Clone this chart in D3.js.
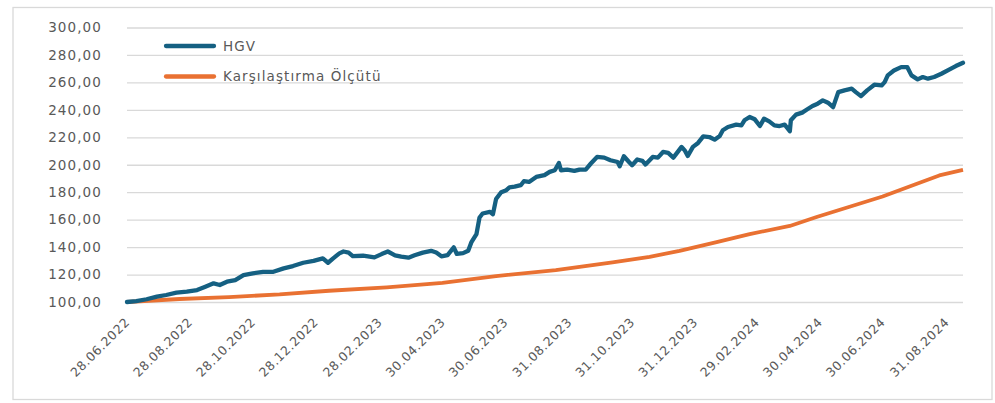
<!DOCTYPE html>
<html>
<head>
<meta charset="utf-8">
<script src="https://cdn.jsdelivr.net/npm/d3@7"></script>
<style>
  body { margin: 0; background: #fff; }
  text { font-family: "DejaVu Sans", sans-serif; fill: #595959; }
</style>
</head>
<body>
<div class="chart"></div>
<script>
// HGV fund index
const hgvDates = [
  "2022-06-28","2022-07-07","2022-07-17","2022-07-27","2022-08-05","2022-08-15","2022-08-25","2022-09-04",
  "2022-09-12","2022-09-20","2022-09-26","2022-10-03","2022-10-11","2022-10-19","2022-10-28","2022-11-07",
  "2022-11-17","2022-11-27","2022-12-06","2022-12-16","2022-12-26","2023-01-04","2023-01-09","2023-01-14",
  "2023-01-20","2023-01-24","2023-01-29","2023-02-02","2023-02-12","2023-02-23","2023-03-02","2023-03-08",
  "2023-03-15","2023-03-21","2023-03-28","2023-04-03","2023-04-11","2023-04-19","2023-04-24","2023-04-29",
  "2023-05-05","2023-05-11","2023-05-14","2023-05-20","2023-05-25","2023-05-28","2023-06-02","2023-06-05",
  "2023-06-08","2023-06-15","2023-06-18","2023-06-21","2023-06-26","2023-07-01","2023-07-04","2023-07-09",
  "2023-07-15","2023-07-18","2023-07-23","2023-07-30","2023-08-07","2023-08-12","2023-08-17","2023-08-21",
  "2023-08-23","2023-08-29","2023-09-05","2023-09-10","2023-09-16","2023-09-21","2023-09-27","2023-10-04",
  "2023-10-10","2023-10-17","2023-10-19","2023-10-23","2023-10-28","2023-10-31","2023-11-05","2023-11-10",
  "2023-11-13","2023-11-20","2023-11-25","2023-11-30","2023-12-05","2023-12-10","2023-12-13","2023-12-18",
  "2023-12-21","2023-12-24","2023-12-29","2024-01-03","2024-01-08","2024-01-14","2024-01-19","2024-01-24",
  "2024-01-27","2024-02-01","2024-02-09","2024-02-14","2024-02-17","2024-02-22","2024-02-27","2024-03-03",
  "2024-03-07","2024-03-12","2024-03-17","2024-03-22","2024-03-27","2024-04-01","2024-04-02","2024-04-07",
  "2024-04-13","2024-04-18","2024-04-23","2024-04-28","2024-05-03","2024-05-08","2024-05-13","2024-05-18",
  "2024-05-24","2024-05-31","2024-06-04","2024-06-09","2024-06-15","2024-06-22","2024-06-29","2024-07-02",
  "2024-07-05","2024-07-11","2024-07-18","2024-07-24","2024-07-28","2024-08-03","2024-08-08","2024-08-13",
  "2024-08-19","2024-08-26","2024-09-03","2024-09-09","2024-09-16"
];
const hgvValues = [
  100.0,100.7,102.0,103.9,105.1,106.8,107.5,108.7,
  111.1,113.6,112.4,114.8,116.0,119.6,120.9,122.0,
  122.0,124.5,126.2,128.6,130.0,131.8,128.6,131.8,
  135.4,136.8,136.0,133.4,133.7,132.5,134.9,136.8,
  134.0,133.0,132.3,134.0,136.0,137.3,136.0,133.3,
  134.2,139.8,135.0,135.6,137.3,143.4,149.5,161.6,
  164.5,165.7,164.0,175.0,180.0,181.5,183.5,184.0,
  185.1,188.0,187.5,191.1,192.4,194.8,196.0,201.3,
  196.0,196.5,195.5,196.5,196.5,200.9,205.7,205.2,
  203.3,202.0,198.9,206.2,202.0,199.6,203.8,202.8,
  200.2,205.7,205.2,209.3,208.6,205.2,208.1,213.0,
  210.5,206.4,213.0,215.9,220.7,220.2,218.3,221.0,
  225.1,227.5,229.2,228.7,232.4,234.8,233.1,228.2,
  233.6,231.6,228.7,228.2,229.2,224.4,232.4,236.5,
  238.0,240.4,242.8,244.5,246.9,245.2,242.0,252.9,
  254.2,255.4,252.9,250.0,254.2,258.3,257.8,260.2,
  265.1,268.7,271.1,271.1,265.1,262.2,263.9,262.7,
  263.9,266.3,269.5,271.9,274.3
];

// benchmark (Karşılaştırma Ölçütü)
const benchDates = [
  "2022-06-28","2022-08-18","2022-10-05","2022-11-23","2023-01-10","2023-03-07","2023-04-30","2023-06-21",
  "2023-08-18","2023-10-12","2023-11-17","2023-12-16","2024-01-21","2024-02-22","2024-04-01","2024-04-27",
  "2024-05-29","2024-06-30","2024-08-01","2024-08-24","2024-09-16"
];
const benchValues = [
  100.0,102.2,103.6,105.5,108.2,110.7,114.0,118.9,
  123.3,128.9,132.9,137.3,143.6,149.5,155.4,161.9,
  169.4,176.9,185.8,192.2,196.2
];

const tickDates = [
  "2022-06-28","2022-08-28","2022-10-28","2022-12-28","2023-02-28","2023-04-30","2023-06-30",
  "2023-08-31","2023-10-31","2023-12-31","2024-02-29","2024-04-30","2024-06-30","2024-08-31"
];
const yTicks = [100, 120, 140, 160, 180, 200, 220, 240, 260, 280, 300];

const seriesNames = ["HGV", "Karşılaştırma Ölçütü"];
const colors = ["#156082", "#E97132"];

const W = 995, H = 403;
const margin = {top: 27.5, right: 32, bottom: 101, left: 127};
const width = W - margin.left - margin.right,
    height = H - margin.top - margin.bottom;

const parse = d3.timeParse("%Y-%m-%d");
const fmt = d3.timeFormat("%d.%m.%Y");

const hgv = hgvDates.map((d, i) => ({date: parse(d), value: hgvValues[i]}));
const bench = benchDates.map((d, i) => ({date: parse(d), value: benchValues[i]}));

const svg = d3.select(".chart")
    .append("svg")
    .attr("width", W)
    .attr("height", H);

// outer frame
svg.append("rect")
    .attr("x", 13).attr("y", 7.5)
    .attr("width", 979).attr("height", 392)
    .attr("fill", "#fff")
    .attr("stroke", "#d9d9d9")
    .attr("stroke-width", 1.3);

const g = svg.append("g")
    .attr("transform", "translate(" + margin.left + "," + margin.top + ")");

const xScale = d3.scaleTime()
    .domain([hgv[0].date, hgv[hgv.length - 1].date])
    .range([0, width]);

const yScale = d3.scaleLinear()
    .domain([100, 300])
    .range([height, 0]);

// gridlines + y labels
const yAxis = d3.axisLeft(yScale)
    .tickValues(yTicks)
    .tickSize(-width)
    .tickPadding(25)
    .tickFormat(d => d3.format(".2f")(d).replace(".", ","));

const yAxisGroup = g.append("g")
    .attr("class", "axis y-axis")
    .call(yAxis);
yAxisGroup.select(".domain").remove();
yAxisGroup.selectAll("line")
    .attr("stroke", "#d9d9d9")
    .attr("stroke-width", 1.3);
yAxisGroup.selectAll("text")
    .style("font-size", "13.5px")
    .style("letter-spacing", "1.1px")
    .style("font-family", "DejaVu Sans")
    .attr("fill", "#595959");

// x labels
const xAxis = d3.axisBottom(xScale)
    .tickValues(tickDates.map(parse))
    .tickSize(0)
    .tickFormat(fmt);

const xAxisGroup = g.append("g")
    .attr("class", "axis x-axis")
    .attr("transform", "translate(0," + height + ")")
    .call(xAxis);
xAxisGroup.select(".domain").remove();
xAxisGroup.selectAll("text")
    .attr("y", 0)
    .attr("dy", 0)
    .attr("transform", "translate(3,21) rotate(-45)")
    .style("text-anchor", "end")
    .style("font-size", "12.5px")
    .style("letter-spacing", "0.6px")
    .style("font-family", "DejaVu Sans")
    .attr("fill", "#595959");

const line = d3.line()
    .x(d => xScale(d.date))
    .y(d => yScale(d.value));

g.append("path")
    .datum(bench)
    .attr("fill", "none")
    .attr("stroke", colors[1])
    .attr("stroke-width", 3.8)
    .attr("stroke-linejoin", "round")
    .attr("d", line);

g.append("path")
    .datum(hgv)
    .attr("fill", "none")
    .attr("stroke", colors[0])
    .attr("stroke-width", 4.3)
    .attr("stroke-linejoin", "round")
    .attr("stroke-linecap", "round")
    .attr("d", line);

// legend
const legend = svg.append("g")
    .attr("transform", "translate(166,46)");

seriesNames.forEach((name, i) => {
    const row = legend.append("g")
        .attr("transform", "translate(0," + (i * 30.5) + ")");
    row.append("line")
        .attr("x1", 0).attr("x2", 48)
        .attr("stroke", colors[i])
        .attr("stroke-width", 4.3)
        .attr("stroke-linecap", "round");
    row.append("text")
        .attr("x", 57)
        .attr("dy", "0.36em")
        .style("font-size", "13.5px")
        .style("letter-spacing", "1.1px")
        .text(name);
});
</script>
</body>
</html>
